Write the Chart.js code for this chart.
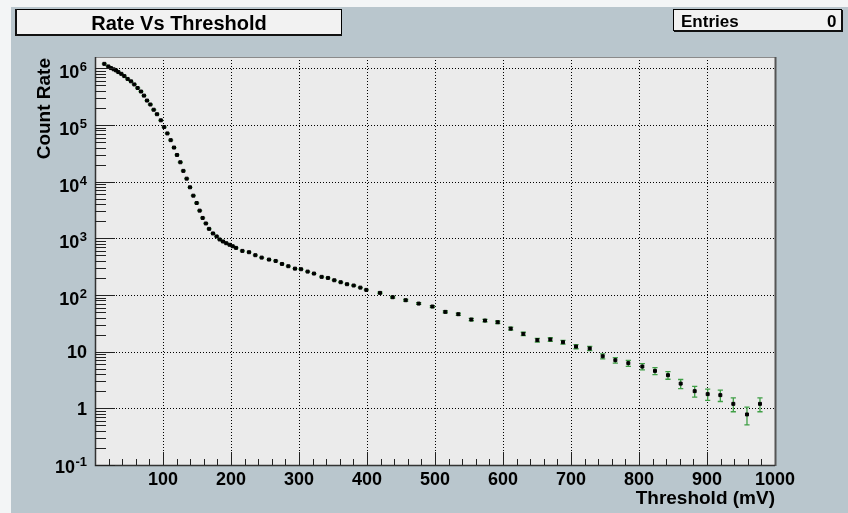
<!DOCTYPE html>
<html>
<head>
<meta charset="utf-8">
<script src="https://cdn.jsdelivr.net/npm/chart.js@4.4.1/dist/chart.umd.min.js"></script>
<style>
html,body{margin:0;padding:0;background:#ffffff;}
#c{display:block;}
</style>
</head>
<body>
<canvas id="c" width="848" height="513"></canvas>
<script>
// ---- data ----
const thresholds = [
  13.7,19.6,23.5,27.5,30.9,34.3,38.7,43.1,48,52.9,57.8,62.7,67.6,72,76.5,81.4,86.3,91.2,96.8,101.7,
  106.4,111.3,116.2,120.6,125.5,129.9,134.8,139.7,144.6,149.5,153.9,158.3,163,167.8,173.5,178.9,183.3,188.2,193,198,202.5,207.4,
  216.7,226.5,235.8,245.1,255.9,265.7,275,284.3,294.1,302.9,312.7,322,333.3,342.6,351.9,361.3,370.6,380.4,390.2,399,
  419.1,437.7,456.9,476,496.1,515.2,534.3,553.4,573.5,592.2,611.3,629.9,650.5,669.6,688.2,707.4,727.5,746.6,765.2,784.3,
  804.9,823.5,842.6,861.3,881.9,901,919.6,938.7,958.8,977.9
];
const rates = [
  1.2e6,1.08e6,1.01e6,9.6e5,9.2e5,8.6e5,8.0e5,7.3e5,6.5e5,5.9e5,5.2e5,4.5e5,3.9e5,3.3e5,2.7e5,2.3e5,1.86e5,1.55e5,1.21e5,9.2e4,
  7.1e4,5.4e4,4.0e4,2.96e4,2.2e4,1.55e4,1.13e4,7960,5660,4200,3080,2290,1830,1470,1220,1080,955,880,820,770,725,678,
  600,569,504,457,422,399,353,322,292,285,259,239,209,200,182,168,155,147,135,123,
  109,91.4,80.9,70.6,62.6,50.4,45.8,36.9,35.4,33.1,25.5,20.6,16.0,16.4,14.7,12.3,11.4,8.3,7.08,6.27,
  5.46,4.58,3.85,2.73,2.01,1.78,1.71,1.2,0.78,1.2
];
const rateErrors = [
  0,0,0,0,0,0,0,0,0,0,0,0,0,0,0,0,0,0,0,0,
  0,0,0,0,0,0,0,0,0,0,0,0,0,0,0,0,0,0,0,0,0,0,
  0,0,0,0,0,0,0,0,0,0,0,0,0,0,0,0,0,0,0,0,
  3.1,2.9,2.7,2.5,2.4,2.1,2.0,1.8,1.8,1.7,1.5,1.4,1.2,1.2,1.15,1.05,1.0,0.86,0.8,0.75,
  0.7,0.64,0.59,0.5,0.43,0.4,0.39,0.33,0.27,0.33
];
const xTickValues = [100,200,300,400,500,600,700,800,900,1000];
const xTickLabels = ['100','200','300','400','500','600','700','800','900','1000'];
const yExponents = [-1,0,1,2,3,4,5,6];
const titleText = 'Rate Vs Threshold';
const xTitle = 'Threshold (mV)';
const yTitle = 'Count Rate';
const statsLabel = 'Entries';
const statsValue = '0';

const W = 848, H = 513;
const FONT = '"Liberation Sans", Arial, Helvetica, sans-serif';

const rootPlugin = {
  id: 'rootStyle',
  beforeDraw(chart) {
    const ctx = chart.ctx, a = chart.chartArea;
    ctx.save();
    ctx.fillStyle = '#f3f5f6';
    ctx.fillRect(0, 0, W, H);
    ctx.fillStyle = '#b9c6cd';
    ctx.fillRect(11, 7, W - 11, H - 7);
    // plot frame fill
    ctx.fillStyle = '#ebebeb';
    ctx.fillRect(a.left, a.top, a.right - a.left, a.bottom - a.top);

    // title box
    ctx.fillStyle = '#f2f2f2';
    ctx.fillRect(16, 9, 326, 26);
    ctx.strokeStyle = '#000';
    ctx.lineWidth = 1;
    ctx.strokeRect(16.5, 9.5, 325, 25);
    ctx.fillStyle = '#111';
    ctx.fillRect(15, 9, 2, 27);
    ctx.fillRect(15, 34, 327, 2);
    ctx.fillStyle = '#000';
    ctx.font = 'bold 20px ' + FONT;
    ctx.textAlign = 'center';
    ctx.textBaseline = 'alphabetic';
    ctx.fillText(titleText, 179, 29.5);

    // stats box
    ctx.fillStyle = '#f2f2f2';
    ctx.fillRect(673, 9, 169, 22);
    ctx.strokeStyle = '#000';
    ctx.strokeRect(673.5, 9.5, 168, 21);
    ctx.fillStyle = '#111';
    ctx.fillRect(841, 10, 2, 22);
    ctx.fillRect(674, 30, 169, 2);
    ctx.fillStyle = '#000';
    ctx.font = 'bold 17px ' + FONT;
    ctx.textAlign = 'left';
    ctx.fillText(statsLabel, 681, 26.5);
    ctx.textAlign = 'right';
    ctx.fillText(statsValue, 836.5, 26.5);
    ctx.restore();
  },
  beforeDatasetsDraw(chart) {
    const ctx = chart.ctx, a = chart.chartArea;
    const xs = chart.scales.x, ys = chart.scales.y;
    ctx.save();
    // dotted grid
    ctx.strokeStyle = '#000';
    ctx.lineWidth = 1;
    ctx.setLineDash([1, 2]);
    ctx.beginPath();
    for (const v of xTickValues) {
      if (v >= 1000) continue;
      const px = Math.round(xs.getPixelForValue(v)) + 0.5;
      ctx.moveTo(px, a.top);
      ctx.lineTo(px, a.bottom);
    }
    for (const e of yExponents) {
      if (e < 0) continue;
      const py = Math.round(ys.getPixelForValue(Math.pow(10, e))) + 0.5;
      ctx.moveTo(a.left, py);
      ctx.lineTo(a.right, py);
    }
    ctx.stroke();
    ctx.setLineDash([]);

    // error bars
    ctx.strokeStyle = '#3f9f45';
    ctx.lineWidth = 1.3;
    ctx.beginPath();
    for (let i = 0; i < thresholds.length; i++) {
      const px = xs.getPixelForValue(thresholds[i]);
      const lo = Math.max(rates[i] - rateErrors[i], 0.1);
      const hi = rates[i] + rateErrors[i];
      const pyLo = ys.getPixelForValue(lo);
      const pyHi = ys.getPixelForValue(hi);
      ctx.moveTo(px, pyLo); ctx.lineTo(px, pyHi);
      ctx.moveTo(px - 2.6, pyLo); ctx.lineTo(px + 2.6, pyLo);
      ctx.moveTo(px - 2.6, pyHi); ctx.lineTo(px + 2.6, pyHi);
    }
    ctx.stroke();
    ctx.restore();
  },
  afterDatasetsDraw(chart) {
    const ctx = chart.ctx, a = chart.chartArea;
    const xs = chart.scales.x, ys = chart.scales.y;
    ctx.save();
    // frame
    ctx.lineWidth = 1;
    ctx.strokeStyle = '#8a8a8a';
    ctx.beginPath();
    ctx.moveTo(a.left, a.top + 0.5); ctx.lineTo(a.right, a.top + 0.5);
    ctx.stroke();
    ctx.strokeStyle = '#555';
    ctx.lineWidth = 2;
    ctx.beginPath();
    ctx.moveTo(a.right + 0.5, a.top); ctx.lineTo(a.right + 0.5, a.bottom + 1);
    ctx.stroke();
    ctx.strokeStyle = '#333';
    ctx.lineWidth = 1.5;
    ctx.beginPath();
    ctx.moveTo(a.left + 0.5, a.top); ctx.lineTo(a.left + 0.5, a.bottom + 0.5);
    ctx.lineTo(a.right, a.bottom + 0.5);
    ctx.stroke();

    // x ticks
    ctx.lineWidth = 1;
    ctx.strokeStyle = '#222';
    ctx.beginPath();
    for (let v = 20; v < 1000; v += 20) {
      const px = Math.round(xs.getPixelForValue(v)) + 0.5;
      const len = (v % 100 === 0) ? 13 : 6;
      ctx.moveTo(px, a.bottom);
      ctx.lineTo(px, a.bottom - len);
    }
    // y ticks
    for (let e = -1; e <= 6; e++) {
      for (let m = 1; m <= 9; m++) {
        const val = m * Math.pow(10, e);
        if (val < 0.1 || val > ys.max) continue;
        const py = Math.round(ys.getPixelForValue(val)) + 0.5;
        const len = (m === 1) ? 20 : 11;
        ctx.moveTo(a.left, py);
        ctx.lineTo(a.left + len, py);
      }
    }
    ctx.stroke();

    // x labels
    ctx.fillStyle = '#000';
    ctx.font = 'bold 18px ' + FONT;
    ctx.textAlign = 'center';
    ctx.textBaseline = 'alphabetic';
    xTickValues.forEach((v, i) => {
      ctx.fillText(xTickLabels[i], xs.getPixelForValue(v), 485);
    });

    // y labels
    const rightX = 87;
    for (const e of yExponents) {
      const py = ys.getPixelForValue(Math.pow(10, e));
      if (e === 0 || e === 1) {
        ctx.font = 'bold 18px ' + FONT;
        ctx.textAlign = 'right';
        ctx.fillText(e === 0 ? '1' : '10', rightX, py + 6.5);
      } else {
        const sup = String(e);
        ctx.font = 'bold 13px ' + FONT;
        const sw = ctx.measureText(sup).width;
        const base = py + (e < 0 ? 1 : 3.5) + 6.5;
        ctx.textAlign = 'right';
        ctx.fillText(sup, rightX, base - 7);
        ctx.font = 'bold 18px ' + FONT;
        ctx.fillText('10', rightX - sw - 0.5, base);
      }
    }

    // axis titles
    ctx.font = 'bold 19px ' + FONT;
    ctx.textAlign = 'right';
    ctx.fillText(xTitle, a.right, 503.5);
    ctx.save();
    ctx.translate(49.5, a.top + 1);
    ctx.rotate(-Math.PI / 2);
    ctx.textAlign = 'right';
    ctx.fillText(yTitle, 0, 0);
    ctx.restore();
    ctx.restore();
  }
};

new Chart(document.getElementById('c'), {
  type: 'scatter',
  data: {
    datasets: [{
      data: thresholds.map((x, i) => ({ x: x, y: rates[i] })),
      pointStyle: 'rect',
      pointRadius: 2.1,
      pointHoverRadius: 2.1,
      backgroundColor: '#000',
      borderColor: '#000',
      borderWidth: 1,
      showLine: false
    }]
  },
  options: {
    responsive: false,
    animation: false,
    devicePixelRatio: 1,
    layout: { padding: { left: 95, right: 73, top: 57, bottom: 48 } },
    plugins: { legend: { display: false }, tooltip: { enabled: false } },
    scales: {
      x: { type: 'linear', min: 0, max: 1000, display: false },
      y: { type: 'logarithmic', min: 0.1, max: 1.585e6, display: false }
    }
  },
  plugins: [rootPlugin]
});
</script>
</body>
</html>
